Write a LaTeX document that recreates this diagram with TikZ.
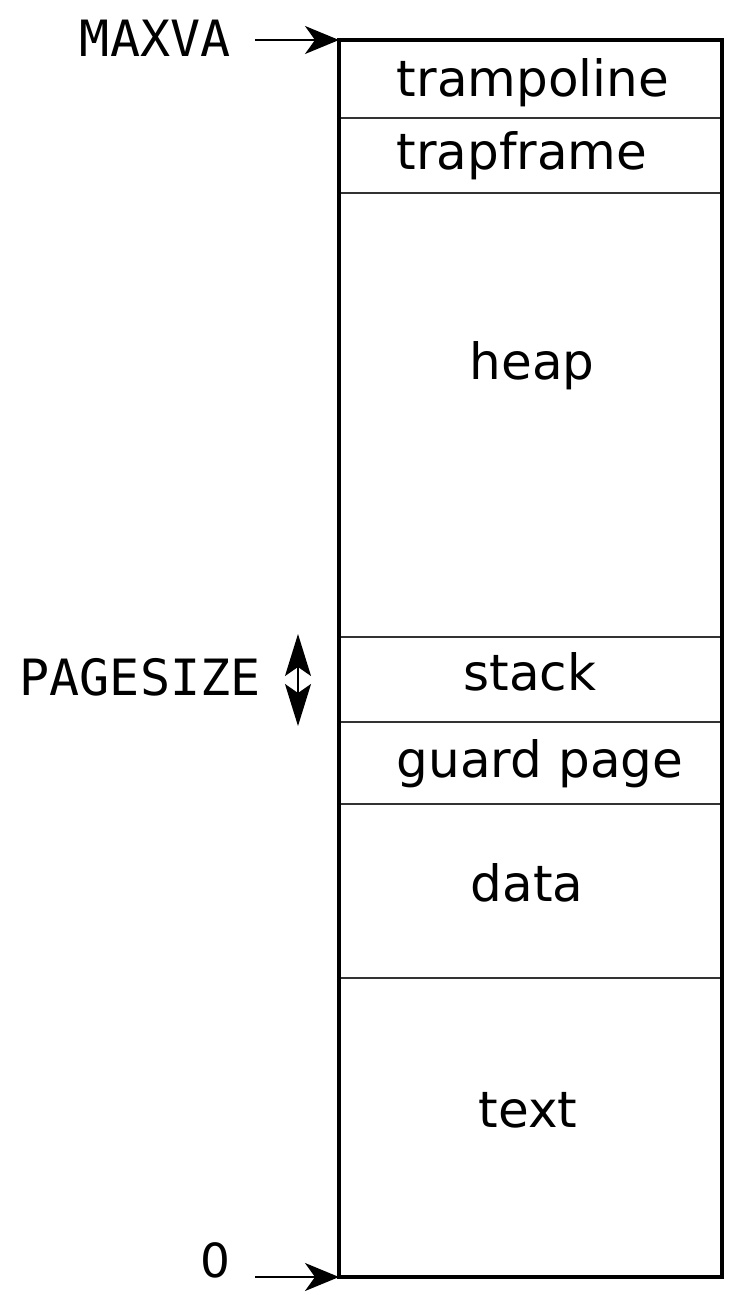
\documentclass[tikz,border=0pt]{standalone}
\usepackage{fontspec}
\setsansfont{DejaVu Sans}
\setmonofont{DejaVu Sans Mono}
\usetikzlibrary{positioning,fit,arrows.meta}
\tikzstyle{seg} = [draw=black!80, line width=1.5pt, rectangle, minimum width=383pt, inner sep=0pt, outer sep=0pt]
\tikzstyle{lbl} = [font=\fontsize{50}{60}\selectfont\sffamily]
\tikzstyle{addr} = [font=\fontsize{50}{60}\selectfont\ttfamily, anchor=east]
\tikzstyle{arrow} = [line width=2pt,-{Stealth[length=34pt,width=28pt,inset=10pt]}]
\tikzstyle{arrowboth} = [line width=1.5pt,{Stealth[length=42pt,width=26pt,inset=9pt]}-{Stealth[length=42pt,width=26pt,inset=9pt]}]

\begin{document}
\begin{tikzpicture}[x=1pt, y=-1pt, node distance=0pt]

    \useasboundingbox (0,0) rectangle (731,1295);

    % memory segments, top to bottom
    \node[seg, minimum height=78pt, anchor=north] (tramp) at (530.5,40) {};
    \node[seg, minimum height=75pt,  below=of tramp] (tf)    {};
    \node[seg, minimum height=444pt, below=of tf   ] (heap)  {};
    \node[seg, minimum height=85pt,  below=of heap ] (stack) {};
    \node[seg, minimum height=82pt,  below=of stack] (guard) {};
    \node[seg, minimum height=174pt, below=of guard] (data)  {};
    \node[seg, minimum height=299pt, below=of data ] (text)  {};
    \node[draw, line width=4.5pt, inner sep=0pt, outer sep=0pt, fit=(tramp)(text)] (mem) {};

    \node[lbl] (tramplbl) at (533,83)   {trampoline};
    \node[lbl] (tflbl)    at (522,156)  {trapframe};
    \node[lbl] (heaplbl)  at (532,366)  {heap};
    \node[lbl] (stacklbl) at (530,672)  {stack};
    \node[lbl] (guardlbl) at (540,764)  {guard page};
    \node[lbl] (datalbl)  at (527,883)  {data};
    \node[lbl] (textlbl)  at (528,1110) {text};

    % addresses
    \node[addr] (maxva) at (234,38)  {MAXVA};
    \node[addr] (pgsz)  at (264,677) {PAGESIZE};
    \node[lbl, font=\fontsize{47}{56}\selectfont\sffamily] (zero) at (215,1260) {0};

    \coordinate (maxvastart) at (255,40);
    \coordinate (zerostart) at (255,1277);
    \coordinate (pgtop) at (298,634);
    \coordinate (pgbot) at (298,726);

    \draw[arrow]     (maxvastart |- mem.north west) -- (mem.north west);
    \draw[arrow]     (zerostart |- mem.south west) -- (mem.south west);
    \draw[arrowboth] (pgtop) -- (pgbot);

\end{tikzpicture}
\end{document}
